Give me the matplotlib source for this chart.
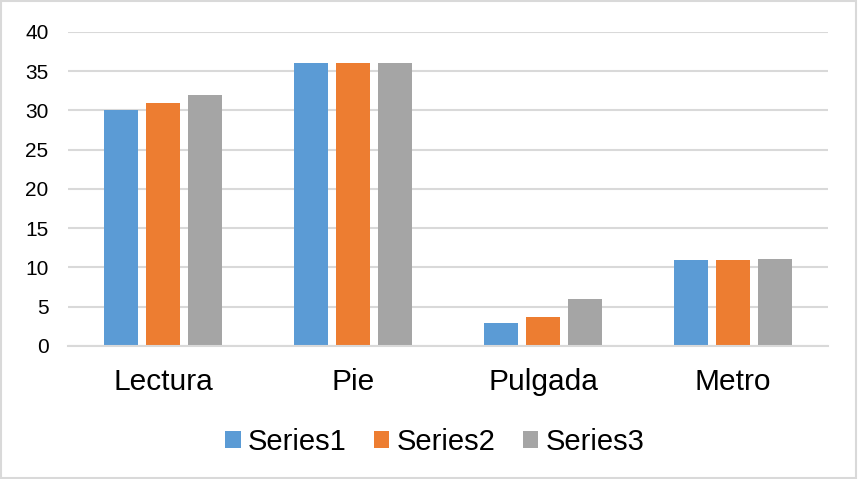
import numpy as np
import matplotlib.pyplot as plt
from matplotlib.patches import Rectangle

plt.rcParams['font.family'] = ['Liberation Sans', 'DejaVu Sans']

categories = ['Lectura', 'Pie', 'Pulgada', 'Metro']
series1 = [30, 36, 2.9, 11]
series2 = [31, 36, 3.7, 11]
series3 = [32, 36, 6.0, 11.1]
series_names = ['Series1', 'Series2', 'Series3']
colors = ['#5B9BD5', '#ED7D31', '#A5A5A5']

fig = plt.figure(figsize=(8.58, 4.79), dpi=100)
ax = fig.add_axes([0.0793, 0.2777, 0.8858, 0.6555])

x = np.arange(len(categories))
width = 0.178
step = 0.221
for i, (vals, name, c) in enumerate(zip([series1, series2, series3], series_names, colors)):
    ax.bar(x + (i - 1) * step, vals, width, color=c, label=name, zorder=3)

ax.set_xlim(-0.5, len(categories) - 0.5)
ax.set_ylim(0, 40)
ax.set_yticks(range(0, 41, 5))
ax.set_xticks(x)
ax.set_xticklabels(categories)
ax.grid(axis='y', color='#D9D9D9', linewidth=1.5, zorder=0)

for s in ['top', 'right', 'left']:
    ax.spines[s].set_visible(False)
ax.spines['bottom'].set_color('#D9D9D9')
ax.spines['bottom'].set_linewidth(1.5)
ax.spines['bottom'].set_zorder(4)

ax.tick_params(axis='y', length=0, labelsize=15, pad=14, labelcolor='black')
ax.tick_params(axis='x', length=0, labelsize=21.5, pad=16, labelcolor='black')

fig.legend(loc='center', bbox_to_anchor=(0.507, 0.078), ncol=3, frameon=False,
           fontsize=21, handlelength=0.52, handleheight=0.52,
           handletextpad=0.25, columnspacing=0.95)

# light border around the whole chart
fig.patches.append(Rectangle((0.001, 0.002), 0.997, 0.996, transform=fig.transFigure,
                             fill=False, edgecolor='#D9D9D9', linewidth=1.5))

plt.savefig('out.png', dpi=100)
